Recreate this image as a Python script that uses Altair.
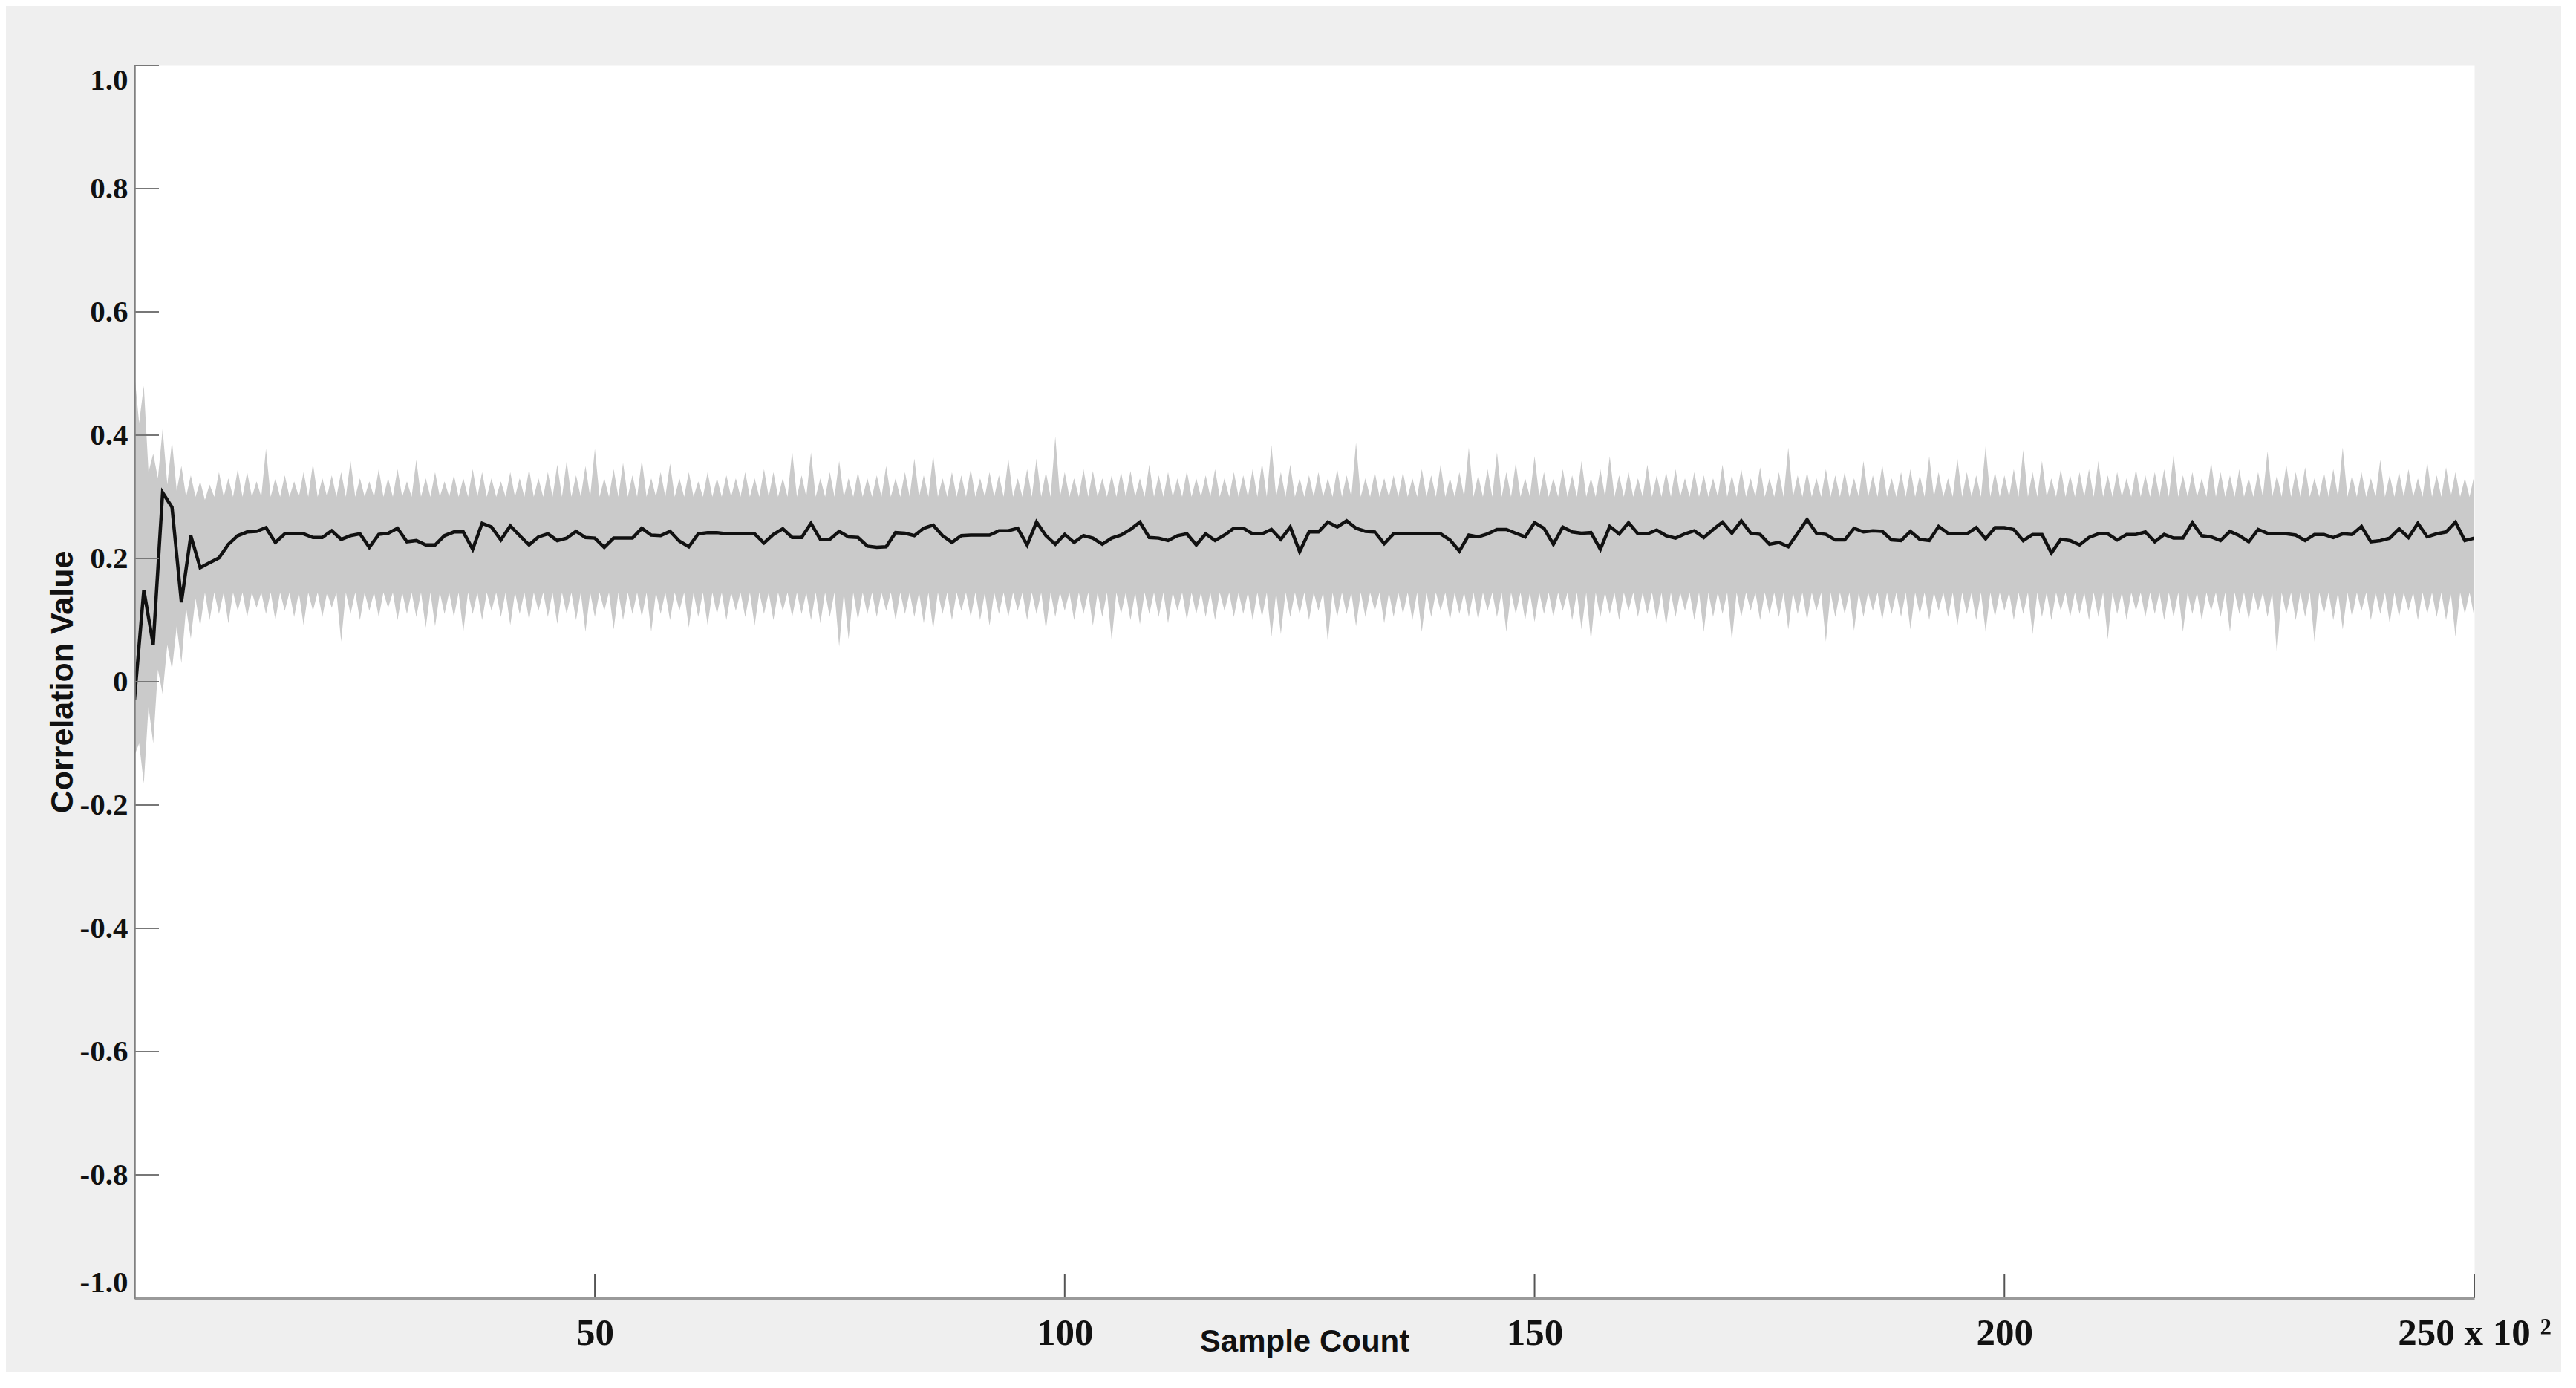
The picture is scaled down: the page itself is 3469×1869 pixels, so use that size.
import altair as alt
import pandas as pd

# ---------------- data ----------------
UNITS = list(range(1, 251))  # sample count in units of 10^2

# black (mean) correlation trace
MEAN = [
    -0.03, 0.149, 0.06, 0.307, 0.283, 0.129, 0.237, 0.185, 0.193, 0.201,
    0.223, 0.237, 0.243, 0.244, 0.25, 0.226, 0.24, 0.24, 0.24, 0.234,
    0.234, 0.245, 0.231, 0.237, 0.24, 0.218, 0.239, 0.241, 0.249, 0.227,
    0.229, 0.222, 0.222, 0.237, 0.243, 0.243, 0.215, 0.257, 0.251, 0.23,
    0.253, 0.237, 0.222, 0.235, 0.24, 0.229, 0.233, 0.244, 0.234, 0.233,
    0.218, 0.233, 0.233, 0.233, 0.249, 0.238, 0.237, 0.244, 0.228, 0.219,
    0.24, 0.242, 0.242, 0.24, 0.24, 0.24, 0.24, 0.225, 0.239, 0.248,
    0.234, 0.234, 0.257, 0.231, 0.231, 0.244, 0.235, 0.234, 0.22, 0.218,
    0.219, 0.242, 0.241, 0.237, 0.249, 0.254, 0.237, 0.226, 0.237, 0.238,
    0.238, 0.238, 0.245, 0.245, 0.249, 0.222, 0.259, 0.237, 0.223, 0.239,
    0.226, 0.237, 0.233, 0.223, 0.233, 0.238, 0.247, 0.259, 0.234, 0.233,
    0.229, 0.237, 0.24, 0.222, 0.24, 0.229, 0.238, 0.249, 0.249, 0.24,
    0.24, 0.247, 0.231, 0.251, 0.211, 0.243, 0.243, 0.259, 0.251, 0.261,
    0.249, 0.244, 0.243, 0.224, 0.24, 0.24, 0.24, 0.24, 0.24, 0.24,
    0.23, 0.212, 0.238, 0.235, 0.24, 0.247, 0.247, 0.241, 0.235, 0.258,
    0.249, 0.223, 0.251, 0.243, 0.241, 0.242, 0.215, 0.252, 0.24, 0.258,
    0.24, 0.24, 0.246, 0.237, 0.233, 0.24, 0.245, 0.234, 0.247, 0.259,
    0.241, 0.261, 0.241, 0.239, 0.223, 0.226, 0.219, 0.241, 0.263, 0.241,
    0.239, 0.23, 0.23, 0.249, 0.243, 0.245, 0.244, 0.23, 0.229, 0.244,
    0.231, 0.229, 0.252, 0.241, 0.24, 0.24, 0.25, 0.232, 0.25, 0.25,
    0.247, 0.229, 0.239, 0.239, 0.209, 0.231, 0.229, 0.222, 0.234, 0.24,
    0.24, 0.23, 0.239, 0.239, 0.243, 0.227, 0.239, 0.233, 0.233, 0.258,
    0.237, 0.235, 0.229, 0.244, 0.237, 0.227, 0.247, 0.241, 0.24, 0.24,
    0.238, 0.229, 0.239, 0.239, 0.234, 0.24, 0.239, 0.252, 0.227, 0.229,
    0.233, 0.248, 0.234, 0.257, 0.235, 0.24, 0.243, 0.259, 0.229, 0.233,
]

# upper tips of the grey bundle of individual traces
UP_TIP = [
    0.50, 0.48, 0.37, 0.41, 0.39, 0.35, 0.335, 0.325, 0.32, 0.34,
    0.33, 0.345, 0.34, 0.325, 0.378, 0.33, 0.335, 0.325, 0.34, 0.354,
    0.33, 0.335, 0.34, 0.358, 0.33, 0.325, 0.345, 0.33, 0.345, 0.325,
    0.36, 0.33, 0.34, 0.325, 0.335, 0.33, 0.345, 0.34, 0.33, 0.325,
    0.34, 0.33, 0.345, 0.33, 0.34, 0.352, 0.358, 0.335, 0.35, 0.378,
    0.33, 0.345, 0.355, 0.335, 0.36, 0.33, 0.34, 0.354, 0.33, 0.34,
    0.325, 0.34, 0.33, 0.335, 0.33, 0.34, 0.33, 0.345, 0.34, 0.33,
    0.374, 0.335, 0.372, 0.33, 0.34, 0.358, 0.33, 0.34, 0.33, 0.335,
    0.35, 0.33, 0.34, 0.362, 0.335, 0.368, 0.33, 0.34, 0.335, 0.345,
    0.33, 0.34, 0.335, 0.362, 0.33, 0.345, 0.362, 0.34, 0.398, 0.34,
    0.33, 0.345, 0.342, 0.33, 0.335, 0.34, 0.342, 0.33, 0.352, 0.335,
    0.34, 0.33, 0.342, 0.33, 0.335, 0.345, 0.33, 0.34, 0.335, 0.345,
    0.355, 0.384, 0.34, 0.352, 0.33, 0.335, 0.34, 0.33, 0.345, 0.335,
    0.388, 0.33, 0.34, 0.33, 0.335, 0.34, 0.33, 0.345, 0.335, 0.352,
    0.33, 0.34, 0.38, 0.335, 0.345, 0.372, 0.34, 0.355, 0.33, 0.366,
    0.34, 0.33, 0.345, 0.335, 0.358, 0.33, 0.345, 0.366, 0.335, 0.34,
    0.33, 0.352, 0.335, 0.34, 0.345, 0.33, 0.34, 0.335, 0.33, 0.352,
    0.335, 0.345, 0.33, 0.348, 0.33, 0.34, 0.38, 0.335, 0.34, 0.33,
    0.345, 0.335, 0.34, 0.33, 0.358, 0.335, 0.352, 0.33, 0.34, 0.345,
    0.335, 0.366, 0.34, 0.33, 0.362, 0.34, 0.335, 0.382, 0.34, 0.335,
    0.345, 0.376, 0.34, 0.358, 0.33, 0.345, 0.335, 0.34, 0.345, 0.358,
    0.335, 0.34, 0.33, 0.345, 0.335, 0.34, 0.345, 0.368, 0.335, 0.34,
    0.33, 0.356, 0.34, 0.335, 0.345, 0.33, 0.34, 0.374, 0.335, 0.352,
    0.34, 0.348, 0.33, 0.34, 0.345, 0.38, 0.335, 0.34, 0.33, 0.36,
    0.335, 0.34, 0.345, 0.33, 0.356, 0.335, 0.348, 0.34, 0.33, 0.335,
]

# lower tips of the grey bundle
LO_TIP = [
    -0.12, -0.165, -0.10, -0.02, 0.02, 0.03, 0.07, 0.09, 0.10, 0.11,
    0.095, 0.115, 0.105, 0.12, 0.11, 0.10, 0.115, 0.105, 0.092, 0.115,
    0.105, 0.12, 0.065, 0.11, 0.10, 0.115, 0.105, 0.12, 0.10, 0.11,
    0.105, 0.088, 0.09, 0.11, 0.105, 0.081, 0.11, 0.10, 0.115, 0.105,
    0.092, 0.11, 0.10, 0.115, 0.105, 0.094, 0.11, 0.10, 0.081, 0.105,
    0.115, 0.085, 0.10, 0.11, 0.105, 0.081, 0.11, 0.10, 0.115, 0.088,
    0.105, 0.092, 0.11, 0.10, 0.115, 0.105, 0.091, 0.11, 0.10, 0.115,
    0.105, 0.11, 0.10, 0.095, 0.105, 0.057, 0.069, 0.10, 0.11, 0.105,
    0.115, 0.10, 0.11, 0.105, 0.095, 0.085, 0.11, 0.10, 0.115, 0.105,
    0.10, 0.091, 0.11, 0.105, 0.115, 0.10, 0.11, 0.085, 0.105, 0.115,
    0.10, 0.11, 0.091, 0.105, 0.067, 0.11, 0.10, 0.093, 0.11, 0.105,
    0.095, 0.115, 0.10, 0.11, 0.105, 0.10, 0.115, 0.105, 0.11, 0.10,
    0.105, 0.073, 0.077, 0.105, 0.11, 0.10, 0.115, 0.065, 0.105, 0.11,
    0.09, 0.105, 0.115, 0.095, 0.105, 0.11, 0.10, 0.081, 0.105, 0.115,
    0.10, 0.11, 0.105, 0.10, 0.115, 0.105, 0.081, 0.11, 0.10, 0.097,
    0.11, 0.105, 0.115, 0.10, 0.085, 0.067, 0.105, 0.11, 0.10, 0.115,
    0.105, 0.11, 0.10, 0.091, 0.105, 0.115, 0.10, 0.081, 0.105, 0.11,
    0.067, 0.105, 0.115, 0.10, 0.11, 0.105, 0.085, 0.11, 0.10, 0.115,
    0.065, 0.105, 0.11, 0.083, 0.105, 0.115, 0.10, 0.11, 0.105, 0.085,
    0.11, 0.10, 0.115, 0.105, 0.091, 0.11, 0.10, 0.081, 0.105, 0.115,
    0.10, 0.11, 0.077, 0.105, 0.10, 0.115, 0.105, 0.11, 0.10, 0.105,
    0.069, 0.11, 0.10, 0.115, 0.105, 0.11, 0.10, 0.105, 0.081, 0.11,
    0.10, 0.115, 0.105, 0.081, 0.11, 0.10, 0.115, 0.105, 0.045, 0.11,
    0.10, 0.105, 0.065, 0.11, 0.10, 0.085, 0.105, 0.115, 0.10, 0.11,
    0.095, 0.105, 0.115, 0.10, 0.11, 0.105, 0.10, 0.073, 0.11, 0.105,
]

# dense core of the grey bundle (first samples wider, then steady)
CORE_HI_START = [0.45, 0.42, 0.34, 0.33, 0.32, 0.31, 0.30, 0.30, 0.295]
CORE_LO_START = [-0.08, -0.10, -0.04, 0.02, 0.06, 0.09, 0.12, 0.135, 0.145]
CORE_HI_REST = 0.30
CORE_LO_REST = 0.145

X_TICKS = [50, 100, 150, 200, 250]
Y_TICKS = [-1.0, -0.8, -0.6, -0.4, -0.2, 0.0, 0.2, 0.4, 0.6, 0.8, 1.0]

assert len(MEAN) == len(UP_TIP) == len(LO_TIP) == len(UNITS)

# ---------------- tables ----------------
SPIKE_HALF = 0.5
rows = []
for i, u in enumerate(UNITS):
    chi = CORE_HI_START[i] if i < len(CORE_HI_START) else CORE_HI_REST
    clo = CORE_LO_START[i] if i < len(CORE_LO_START) else CORE_LO_REST
    rows.append({"x": u - SPIKE_HALF + 0.001, "lo": clo, "hi": chi})
    rows.append({"x": u, "lo": LO_TIP[i], "hi": UP_TIP[i]})
band_df = pd.DataFrame(rows)
mean_df = pd.DataFrame({"u": UNITS, "v": MEAN})
xt_df = pd.DataFrame({"t": X_TICKS})
yt_df = pd.DataFrame({"t": Y_TICKS})

W, H = 3151, 1660
TICK = 33

xs = alt.Scale(domain=[1, 250], nice=False, zero=False)
ys = alt.Scale(domain=[-1, 1], nice=False, zero=False)

x_axis = alt.Axis(
    values=X_TICKS, title="Sample Count", ticks=False, grid=False,
    domainColor="#9a9a9a", domainWidth=5,
    labelFont="Liberation Serif", labelFontWeight="bold", labelFontSize=51,
    labelColor="#111111", labelPadding=22, labelFlush=False, labelOverlap=False,
    labelLimit=0,
    labelExpr="datum.value == 250 ? '250 x 10 \u00b2' : datum.label",
    titleFont="Liberation Sans", titleFontWeight="bold", titleFontSize=42,
    titleColor="#111111", titleY=58, titleBaseline="middle", zindex=1,
)
y_axis = alt.Axis(
    values=Y_TICKS, title="Correlation Value", ticks=False, grid=False,
    domainColor="#808080", domainWidth=2.5,
    labelFont="Liberation Serif", labelFontWeight="bold", labelFontSize=41,
    labelColor="#111111", labelPadding=9, labelFlush=True, labelOverlap=False,
    labelExpr="datum.value == 0 ? '0' : (datum.value < 0 ? '-' : '') + format(abs(datum.value), '.1f')",
    titleFont="Liberation Sans", titleFontWeight="bold", titleFontSize=43,
    titleColor="#111111", titleX=-97, titleY=H / 2, titleAngle=270,
    titleBaseline="middle", titleAlign="center", zindex=1,
)

band = alt.Chart(band_df).mark_area(color="#cacaca", clip=True).encode(
    x=alt.X("x:Q", scale=xs, axis=x_axis, title="Sample Count"),
    y=alt.Y("lo:Q", scale=ys, axis=y_axis, title="Correlation Value"),
    y2="hi:Q",
)

line = alt.Chart(mean_df).mark_line(color="#111111", strokeWidth=4.5, clip=True).encode(
    x=alt.X("u:Q", scale=xs, axis=x_axis, title="Sample Count"),
    y=alt.Y("v:Q", scale=ys, axis=y_axis, title="Correlation Value"),
)

xticks = alt.Chart(xt_df).mark_rule(color="#555555", strokeWidth=2).encode(
    x=alt.X("t:Q", scale=xs, axis=x_axis, title="Sample Count"),
    y=alt.value(H),
    y2=alt.value(H - TICK),
)

yticks = alt.Chart(yt_df).mark_rule(color="#777777", strokeWidth=2).encode(
    y=alt.Y("t:Q", scale=ys, axis=y_axis, title="Correlation Value"),
    x=alt.value(0),
    x2=alt.value(TICK),
)

chart = (
    alt.layer(band, line, xticks, yticks)
    .properties(
        width=W, height=H, background="#efefef",
        padding={"left": 173, "top": 80, "right": 117, "bottom": 100},
        autosize=alt.AutoSizeParams(type="none"),
    )
    .configure_view(fill="white", stroke="transparent")
)

chart.save("out.html", embed_options={"renderer": "svg", "actions": False})
